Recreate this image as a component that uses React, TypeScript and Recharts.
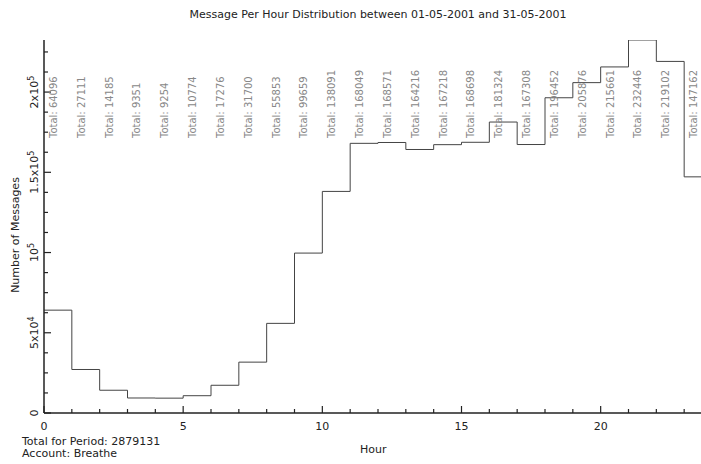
import React from 'react';
import { ComposedChart, Line, XAxis, YAxis } from 'recharts';

const hours = [0, 1, 2, 3, 4, 5, 6, 7, 8, 9, 10, 11, 12, 13, 14, 15, 16, 17, 18, 19, 20, 21, 22, 23];
const totals = [
  64096, 27111, 14185, 9351, 9254, 10774, 17276, 31700, 55853, 99659, 138091, 168049,
  168571, 164216, 167218, 168698, 181324, 167308, 196452, 205876, 215661, 232446, 219102, 147162,
];
const xTicks = [0, 1, 2, 3, 4, 5, 6, 7, 8, 9, 10, 11, 12, 13, 14, 15, 16, 17, 18, 19, 20, 21, 22, 23, 24];
const xLabelTicks = [0, 5, 10, 15, 20];
const yTicks = [
  0, 12500, 25000, 37500, 50000, 62500, 75000, 87500, 100000, 112500, 125000, 137500,
  150000, 162500, 175000, 187500, 200000, 212500, 225000,
];
const yLabels: Record<number, [string, string]> = {
  0: ['0', ''],
  50000: ['5x10', '4'],
  100000: ['10', '5'],
  150000: ['1.5x10', '5'],
  200000: ['2x10', '5'],
};
const periodTotal = 2879131;
const account = 'Breathe';

const stepData = [
  ...hours.map((h, i) => ({ hour: h, count: totals[i] })),
  { hour: hours[hours.length - 1] + 1, count: totals[totals.length - 1] },
];
const labelData = hours.map((h, i) => ({ hour: h + 0.5, count: totals[i] }));

const PLOT_LEFT = 44;
const PLOT_TOP = 40;
const PLOT_BOTTOM = 413;
const FONT = '"DejaVu Sans", sans-serif';

const BottomTick = (props: any) => {
  const { x, payload } = props;
  const major = payload.value % 5 === 0;
  return (
    <g>
      <line x1={x} x2={x} y1={PLOT_BOTTOM} y2={PLOT_BOTTOM - (major ? 7 : 4)} stroke="#222" strokeWidth={1.2} />
      {xLabelTicks.includes(payload.value) && (
        <text x={x} y={430} textAnchor="middle" fontSize={11} fill="#222" fontFamily={FONT}>
          {payload.value}
        </text>
      )}
    </g>
  );
};

const TopTick = (props: any) => {
  const { x, payload } = props;
  const major = payload.value % 5 === 0;
  return (
    <line x1={x} x2={x} y1={PLOT_TOP} y2={PLOT_TOP + (major ? 7 : 4)} stroke="#222" strokeWidth={1.2} />
  );
};

const LeftTick = (props: any) => {
  const { y, payload } = props;
  const lab = yLabels[payload.value];
  const major = !!lab;
  return (
    <g>
      <line x1={PLOT_LEFT} x2={PLOT_LEFT + (major ? 7 : 4)} y1={y} y2={y} stroke="#222" strokeWidth={1.2} />
      {lab && (
        <text
          x={38}
          y={y}
          transform={`rotate(-90, 38, ${y})`}
          textAnchor="middle"
          fontSize={11}
          fill="#222"
          fontFamily={FONT}
        >
          {lab[0]}
          {lab[1] && (
            <tspan dy={-4} fontSize={8}>
              {lab[1]}
            </tspan>
          )}
        </text>
      )}
    </g>
  );
};

const TotalLabel = (props: any) => {
  const { x, value } = props;
  const lx = x - 1;
  const ly = 138;
  return (
    <text
      x={lx}
      y={ly}
      transform={`rotate(-90, ${lx}, ${ly})`}
      fontSize={10}
      fill="#888"
      fontFamily={FONT}
    >
      {`Total: ${value}`}
    </text>
  );
};

export default function App() {
  return (
    <div
      style={{
        position: 'absolute',
        left: 0,
        top: 0,
        width: 701,
        height: 464,
        overflow: 'hidden',
        background: '#fff',
        fontFamily: FONT,
        color: '#222',
      }}
    >
      <div style={{ position: 'absolute', left: 0, width: 756, top: 8, textAlign: 'center', fontSize: 11 }}>
        Message Per Hour Distribution between 01-05-2001 and 31-05-2001
      </div>
      <ComposedChart
        width={720}
        height={464}
        margin={{ top: PLOT_TOP, right: 8, bottom: 0, left: 0 }}
        style={{ position: 'absolute', left: 0, top: 0 }}
      >
        <XAxis
          dataKey="hour"
          type="number"
          domain={[0, 24]}
          ticks={xTicks}
          interval={0}
          height={464 - PLOT_BOTTOM}
          axisLine={{ stroke: '#222', strokeWidth: 1.5 }}
          tickLine={false}
          tick={<BottomTick />}
          allowDataOverflow
        />
        <XAxis
          xAxisId="top"
          orientation="top"
          dataKey="hour"
          type="number"
          domain={[0, 24]}
          ticks={xTicks}
          interval={0}
          height={0}
          axisLine={{ stroke: '#222', strokeWidth: 1.5 }}
          tickLine={false}
          tick={<TopTick />}
          allowDataOverflow
        />
        <YAxis
          type="number"
          domain={[0, 'dataMax']}
          ticks={yTicks}
          interval={0}
          width={PLOT_LEFT}
          axisLine={{ stroke: '#222', strokeWidth: 1.5 }}
          tickLine={false}
          tick={<LeftTick />}
          allowDataOverflow
        />
        <Line
          data={stepData}
          dataKey="count"
          type="stepAfter"
          stroke="#444"
          strokeWidth={1}
          dot={false}
          isAnimationActive={false}
        />
        <Line
          data={labelData}
          dataKey="count"
          stroke="none"
          dot={false}
          label={<TotalLabel />}
          isAnimationActive={false}
        />
      </ComposedChart>
      <div
        style={{
          position: 'absolute',
          left: 15,
          top: 235,
          transform: 'translate(-50%, -50%) rotate(-90deg)',
          whiteSpace: 'nowrap',
          fontSize: 11,
        }}
      >
        Number of Messages
      </div>
      <div style={{ position: 'absolute', left: 360, top: 443, fontSize: 11 }}>Hour</div>
      <div style={{ position: 'absolute', left: 22, top: 436, fontSize: 11, lineHeight: '12px' }}>
        Total for Period: {periodTotal}
        <br />
        Account: {account}
      </div>
    </div>
  );
}
